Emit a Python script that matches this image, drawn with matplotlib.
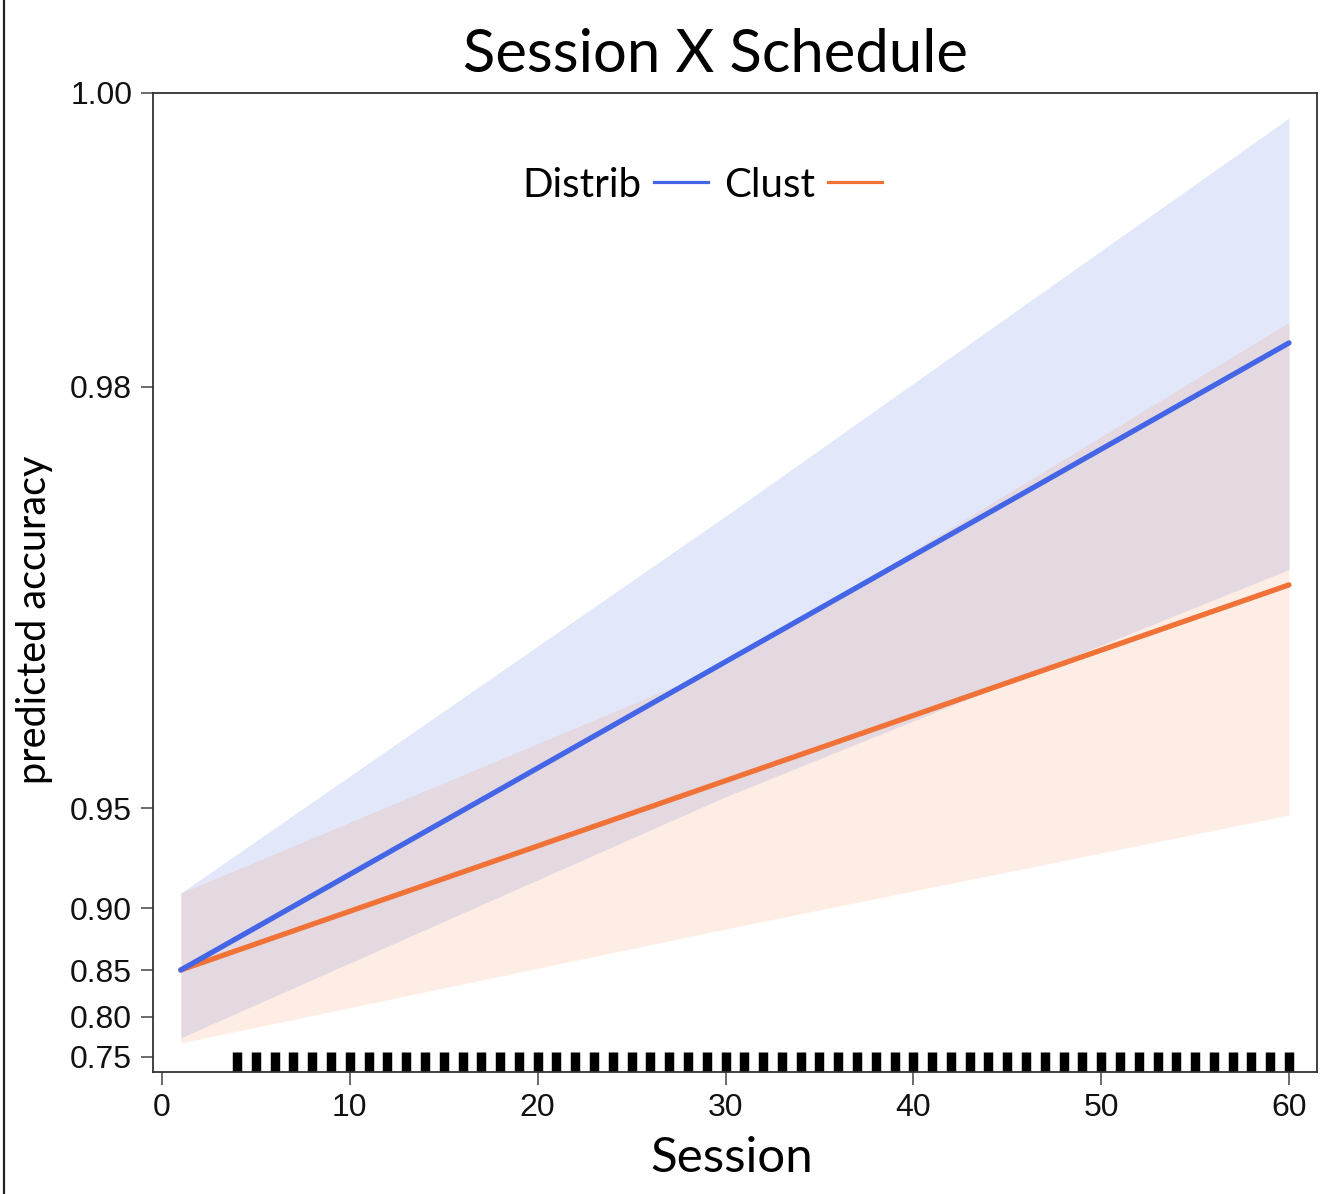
import numpy as np
import matplotlib
matplotlib.use("Agg")
import matplotlib.pyplot as plt
from matplotlib.lines import Line2D

# ---------------- data ----------------
sessions_line = [1, 60]
distrib_fit = [0.850, 0.9830]
clust_fit = [0.850, 0.9659]

sessions_band = [1, 30, 60]
distrib_lo = [0.774, 0.9508, 0.9670]
distrib_hi = [0.9075, 0.9708, 0.9983]
clust_lo = [0.7675, 0.8831, 0.9465]
clust_hi = [0.9075, 0.9602, 0.9844]

rug_sessions = [4, 5, 6, 7, 8, 9, 10, 11, 12, 13, 14, 15, 16, 17, 18, 19, 20,
                21, 22, 23, 24, 25, 26, 27, 28, 29, 30, 31, 32, 33, 34, 35, 36,
                37, 38, 39, 40, 41, 42, 43, 44, 45, 46, 47, 48, 49, 50, 51, 52,
                53, 54, 55, 56, 57, 58, 59, 60]

ytick_values = [0.75, 0.80, 0.85, 0.90, 0.95, 0.98, 1.00]
ytick_labels = ["0.75", "0.80", "0.85", "0.90", "0.95", "0.98", "1.00"]
xtick_values = [0, 10, 20, 30, 40, 50, 60]
series_names = ["Distrib", "Clust"]

# ---------------- axis scale (non-uniform tick spacing as in the original) ----------------
KV = np.array(ytick_values)
KP = np.array([15.0, 55.0, 102.0, 164.0, 264.0, 685.0, 979.0])


def fwd(v):
    v = np.asarray(v, dtype=float)
    a = np.atleast_1d(v).copy()
    out = np.interp(a, KV, KP)
    lo = a < KV[0]
    hi = a > KV[-1]
    out[lo] = KP[0] + (a[lo] - KV[0]) * (KP[1] - KP[0]) / (KV[1] - KV[0])
    out[hi] = KP[-1] + (a[hi] - KV[-1]) * (KP[-1] - KP[-2]) / (KV[-1] - KV[-2])
    return out.reshape(v.shape)


def inv(p):
    p = np.asarray(p, dtype=float)
    a = np.atleast_1d(p).copy()
    out = np.interp(a, KP, KV)
    lo = a < KP[0]
    hi = a > KP[-1]
    out[lo] = KV[0] + (a[lo] - KP[0]) * (KV[1] - KV[0]) / (KP[1] - KP[0])
    out[hi] = KV[-1] + (a[hi] - KP[-1]) * (KV[-1] - KV[-2]) / (KP[-1] - KP[-2])
    return out.reshape(p.shape)


# ---------------- figure ----------------
W, H = 1328, 1194
fig = plt.figure(figsize=(W / 100, H / 100), dpi=100)
fig.patch.set_facecolor("white")

ax = fig.add_axes([153 / W, 1 - 1072 / H, (1317 - 153) / W, (1072 - 93) / H])
ax.set_yscale("function", functions=(fwd, inv))

blue = "#4466E6"
orange = "#F07236"

ax.fill_between(sessions_band, distrib_lo, distrib_hi, color="#4169E1", alpha=0.15, lw=0)
ax.fill_between(sessions_band, clust_lo, clust_hi, color="#F5783C", alpha=0.13, lw=0)

ax.plot(sessions_line, clust_fit, color=orange, lw=3.8, solid_capstyle="round")
ax.plot(sessions_line, distrib_fit, color=blue, lw=3.8, solid_capstyle="round")

ax.vlines(rug_sessions, 0, 0.020, transform=ax.get_xaxis_transform(),
          color="black", lw=6.8)

ax.set_xlim(-0.48, 61.49)
ax.set_ylim(0.73125, 1.0)
ax.set_yticks(ytick_values)
ax.set_yticklabels(ytick_labels)
ax.set_xticks(xtick_values)
ax.minorticks_off()

for s in ax.spines.values():
    s.set_color("#333333")
    s.set_linewidth(1.3)

for lab in ax.get_yticklabels() + ax.get_xticklabels():
    lab.set_fontfamily("Liberation Sans")
    lab.set_fontsize(23)
    lab.set_color("#111111")
ax.tick_params(axis="both", direction="out", length=9, width=1.1,
               color="#444444", pad=6)

# legend (label before handle)
handles = [Line2D([], [], color=blue, lw=2.3), Line2D([], [], color=orange, lw=2.3)]
ax.legend(handles, series_names, ncol=2, markerfirst=False, frameon=False,
          loc="center", bbox_to_anchor=(0.472, 0.906), handlelength=1.35,
          handletextpad=0.3, columnspacing=0.4,
          prop={"family": "Lato", "size": 29})

# texts
fig.text(715 / W, 1 - 72 / H, "Session X Schedule", ha="center", va="baseline",
         fontsize=43, family="Lato", color="black")
fig.text(732 / W, 1 - 1172 / H, "Session", ha="center", va="baseline",
         fontsize=35.5, family="Lato", color="black")
fig.text(35 / W, 1 - 620 / H, "predicted accuracy", ha="center", va="center",
         rotation=90, fontsize=28.5, family="Lato", color="black")

# figure border line at left
fig.add_artist(Line2D([4 / W, 4 / W], [0, 1], transform=fig.transFigure,
                      color="#222222", lw=1.6))

fig.savefig("out.png", dpi=100, facecolor="white")
